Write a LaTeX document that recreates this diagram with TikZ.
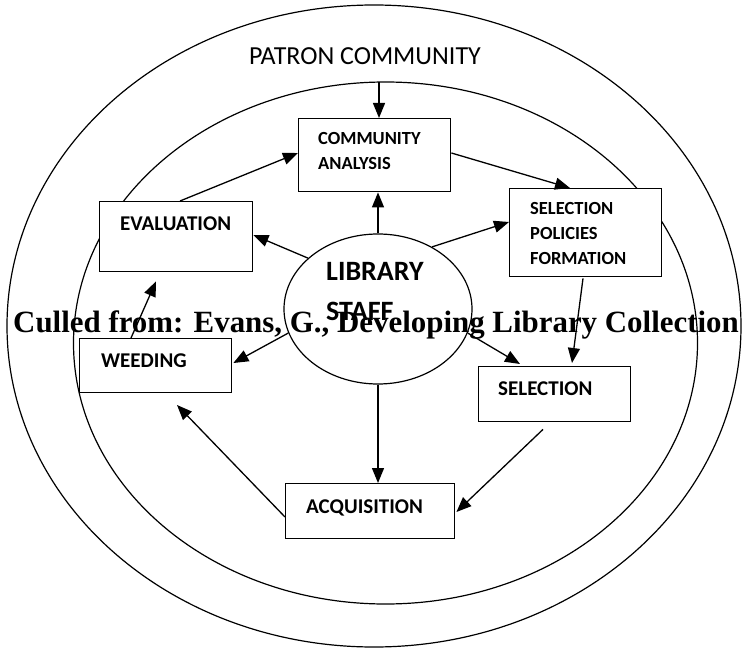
\documentclass[tikz,border=0pt]{standalone}
\usepackage{fontspec}
\setmainfont{Liberation Serif}
\newfontfamily\calibri{Carlito}
\usetikzlibrary{arrows.meta,shapes.geometric,calc}

\begin{document}
\begin{tikzpicture}[x=1pt,y=-1pt,
  ring/.style={draw, line width=1.2pt},
  stage/.style={draw, fill=white, line width=1.4pt, inner sep=0pt, anchor=north west},
  biglbl/.style={font=\calibri\bfseries\fontsize{21}{24}\selectfont, anchor=base west, inner sep=0pt},
  smalllbl/.style={font=\calibri\bfseries\fontsize{18.5}{25}\selectfont, anchor=base west, inner sep=0pt, align=left},
  flow/.style={line width=1.3pt, -{Triangle[length=15pt,width=12pt]}}
]
\useasboundingbox (0,0) rectangle (742,650);

% patron community and collection rings
\draw[ring] (374,326) ellipse [x radius=367pt, y radius=321pt];
\draw[ring] (385.5,343) ellipse [x radius=312pt, y radius=261pt];
\coordinate (innertop) at (379,82);

\node[font=\calibri\fontsize{26}{28}\selectfont, anchor=base west, inner sep=0pt] (patron) at (249,65) {PATRON COMMUNITY};

% stages of collection development
\node[stage, minimum width=152pt, minimum height=73pt] (comm) at (298,118) {};
\node[stage, minimum width=153pt, minimum height=70pt] (eval) at (99,201) {};
\node[stage, minimum width=152pt, minimum height=88pt] (spf)  at (509,188) {};
\node[stage, minimum width=152pt, minimum height=54pt] (weed) at (79,338) {};
\node[stage, minimum width=152pt, minimum height=55pt] (sel)  at (478,366) {};
\node[stage, minimum width=169pt, minimum height=55pt] (acq)  at (285,483) {};

% multi-line labels sit on the baseline of their last line
\node[smalllbl] (commlbl) at (318,170) {COMMUNITY\\ANALYSIS};
\node[biglbl] (evallbl) at (120,230) {EVALUATION};
\node[smalllbl] (spflbl) at (530,264) {SELECTION\\POLICIES\\FORMATION};
\node[biglbl] (weedlbl) at (101,367) {WEEDING};
\node[biglbl] (sellbl) at (498,395) {SELECTION};
\node[biglbl] (acqlbl) at (306,513) {ACQUISITION};

% library staff at the centre
\node[draw, ellipse, line width=1.2pt, minimum width=188pt, minimum height=150pt, inner sep=0pt] (staff) at (378,309) {};
\node[font=\calibri\bfseries\fontsize{28}{40}\selectfont, anchor=base west, inner sep=0pt, align=left] (stafflbl) at (326,320) {LIBRARY\\STAFF};

% flows
\draw[flow] (innertop) -- (innertop |- comm.north);
\draw[flow] ($(eval.north west)+(81,0)$) -- ($(comm.north west)+(0,35)$);
\draw[flow] ($(comm.north east)+(0,35)$) -- ($(spf.north west)+(61,0)$);
\draw[flow] (staff.north) -- (staff.north |- comm.south);
\draw[flow] (staff.49) -- ($(spf.north west)+(0,34)$);
\draw[flow] (staff.144) -- ($(eval.north east)+(0,34)$);
\coordinate (evalin) at ($(eval.south west)+(57,9)$);
\draw[flow] ($(weed.north west)+(52,0)$) -- (evalin);
\draw[flow] (staff.195) -- ($(weed.north east)+(1,25)$);
\draw[flow] (staff.-15) -- ($(sel.north west)+(42,-2)$);
\draw[flow] ($(spf.south west)+(74,1)$) -- ($(sel.north west)+(94,-3)$);
\draw[flow] (staff.south) -- (staff.south |- acq.north);
\draw[flow] ($(sel.south west)+(65,7)$) -- ($(acq.north east)+(1,29)$);
\coordinate (weedin) at (177,405);
\draw[flow] ($(acq.north west)+(0,34)$) -- (weedin);

% source line
\node[font=\bfseries\fontsize{30.9}{34}\selectfont, anchor=base, inner sep=0pt] (source) at (376,332) {Culled from: Evans, G., Developing Library Collection};
\end{tikzpicture}
\end{document}
